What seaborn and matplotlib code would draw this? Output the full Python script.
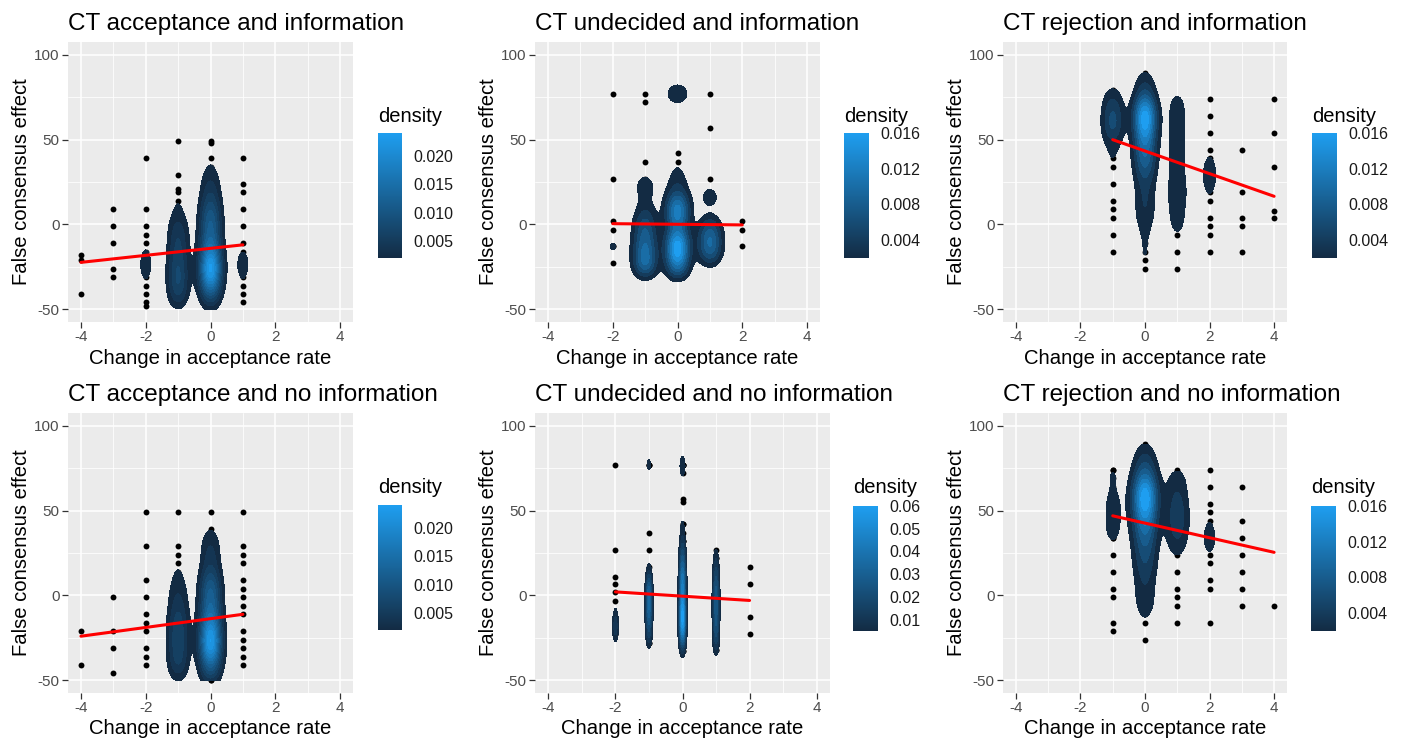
import numpy as np
import matplotlib
matplotlib.use("Agg")
import matplotlib.pyplot as plt
import seaborn as sns
from matplotlib.colors import LinearSegmentedColormap, Normalize
from matplotlib.cm import ScalarMappable

# ---- data: change in acceptance rate (x), false consensus effect (y), number of respondents (n)
acc_info_x = [-4, -4, -4,
              -3, -3, -3, -3, -3,
              -2, -2, -2, -2, -2, -2, -2, -2, -2, -2, -2, -2, -2,
              -1, -1, -1, -1, -1, -1, -1, -1, -1, -1, -1, -1, -1, -1, -1, -1, -1,
              0, 0, 0, 0, 0, 0, 0, 0, 0, 0, 0, 0, 0, 0, 0, 0, 0, 0, 0, 0,
              1, 1, 1, 1, 1, 1, 1, 1, 1, 1, 1, 1, 1]
acc_info_y = [-18, -21, -41,
              9, -1, -11, -26, -31,
              39, 9, -1, -6, -11, -16, -21, -26, -31, -36, -41, -46, -48,
              49, 29, 21, 19, 14, 9, 4, -1, -6, -11, -16, -21, -26, -31, -36, -41, -46,
              49, 48, 39, 34, 29, 24, 19, 14, 9, 4, -1, -6, -11, -16, -21, -26, -31, -36, -41, -46,
              39, 24, 19, 9, -1, -11, -16, -21, -26, -31, -36, -41, -46]
acc_info_n = [1, 1, 1,
              1, 1, 1, 1, 1,
              1, 1, 1, 1, 1, 1, 2, 2, 1, 1, 1, 1, 1,
              1, 1, 1, 1, 1, 1, 2, 3, 4, 4, 4, 5, 5, 6, 5, 5, 2,
              1, 1, 1, 1, 2, 3, 3, 5, 6, 8, 8, 8, 9, 11, 15, 19, 15, 11, 6, 3,
              1, 1, 1, 1, 1, 1, 1, 2, 2, 1, 1, 1, 1]

und_info_x = [-2, -2, -2, -2, -2, -2,
              -1, -1, -1, -1, -1, -1, -1, -1, -1, -1, -1, -1, -1, -1, -1,
              0, 0, 0, 0, 0, 0, 0, 0, 0, 0, 0, 0, 0, 0, 0, 0,
              1, 1, 1, 1, 1, 1, 1, 1, 1, 1, 1,
              2, 2, 2]
und_info_y = [77, 27, 2, -3, -13, -23,
              77, 72, 37, 27, 22, 17, 12, 7, 2, -3, -8, -13, -18, -23, -28,
              77, 42, 37, 30, 27, 22, 17, 12, 7, 2, -3, -8, -13, -18, -23, -28,
              77, 57, 27, 17, 13, 2, -3, -8, -13, -18, -23,
              2, -3, -13]
und_info_n = [1, 1, 1, 1, 2, 1,
              1, 1, 1, 1, 2, 1, 1, 2, 3, 4, 4, 5, 5, 6, 3,
              4, 1, 1, 1, 1, 2, 3, 6, 7, 5, 4, 7, 9, 8, 6, 4,
              1, 1, 1, 2, 1, 2, 4, 5, 5, 4, 1,
              1, 1, 1]

rej_info_x = [-1, -1, -1, -1, -1, -1, -1, -1, -1, -1, -1, -1, -1, -1, -1, -1,
              0, 0, 0, 0, 0, 0, 0, 0, 0, 0, 0, 0, 0, 0, 0, 0, 0, 0, 0, 0, 0, 0, 0, 0,
              1, 1, 1, 1, 1, 1, 1, 1, 1, 1, 1, 1, 1, 1, 1, 1, 1, 1, 1,
              2, 2, 2, 2, 2, 2, 2, 2, 2, 2, 2, 2, 2, 2,
              3, 3, 3, 3, 3,
              4, 4, 4, 4, 4]
rej_info_y = [79, 74, 69, 64, 59, 54, 49, 44, 39, 34, 24, 14, 9, 4, -6, -16,
              89, 84, 79, 74, 69, 64, 59, 54, 49, 44, 39, 34, 29, 24, 19, 14, 9, 4, -1, -6, -11, -16, -21, -26,
              74, 69, 64, 59, 54, 49, 44, 39, 34, 29, 24, 19, 14, 9, 4, -1, -6, -16, -26,
              74, 64, 54, 44, 39, 34, 29, 24, 19, 14, 4, -1, -6, -16,
              44, 19, 4, -1, -16,
              74, 54, 34, 8, 4]
rej_info_n = [1, 2, 3, 3, 4, 3, 1, 1, 1, 1, 1, 1, 1, 1, 1, 1,
              1, 2, 2, 4, 8, 10, 9, 7, 6, 5, 5, 4, 3, 2, 2, 2, 2, 2, 1, 1, 1, 1, 1, 1,
              2, 1, 2, 1, 2, 1, 2, 1, 2, 1, 2, 2, 2, 1, 2, 1, 1, 1, 1,
              1, 1, 1, 1, 1, 1, 2, 1, 1, 1, 1, 1, 1, 1,
              1, 1, 1, 1, 1,
              1, 1, 1, 1, 1]

acc_noinfo_x = [-4, -4,
                -3, -3, -3, -3,
                -2, -2, -2, -2, -2, -2, -2, -2, -2, -2,
                -1, -1, -1, -1, -1, -1, -1, -1, -1, -1, -1, -1, -1, -1, -1, -1, -1,
                0, 0, 0, 0, 0, 0, 0, 0, 0, 0, 0, 0, 0, 0, 0, 0, 0, 0, 0, 0,
                1, 1, 1, 1, 1, 1, 1, 1, 1, 1, 1, 1, 1, 1]
acc_noinfo_y = [-21, -41,
                -1, -21, -31, -46,
                49, 29, 9, -1, -11, -16, -21, -31, -36, -41,
                49, 29, 24, 19, 14, 9, 4, -1, -6, -11, -16, -21, -26, -31, -36, -41, -46,
                49, 39, 34, 29, 24, 19, 14, 9, 4, -1, -6, -11, -16, -21, -26, -31, -36, -41, -46, -50,
                49, 29, 24, 19, 9, 4, -1, -6, -11, -21, -26, -31, -36, -41]
acc_noinfo_n = [1, 1,
                1, 1, 1, 1,
                1, 1, 1, 1, 1, 1, 1, 1, 1, 1,
                1, 1, 1, 1, 1, 2, 2, 3, 3, 4, 5, 5, 5, 5, 5, 4, 3,
                1, 1, 2, 3, 3, 3, 4, 7, 8, 9, 8, 10, 12, 14, 18, 16, 12, 8, 5, 2,
                1, 1, 1, 1, 1, 1, 1, 1, 1, 1, 1, 1, 1, 1]

und_noinfo_x = [-2, -2, -2, -2, -2, -2, -2, -2, -2,
                -1, -1, -1, -1, -1, -1, -1, -1, -1, -1, -1, -1, -1,
                0, 0, 0, 0, 0, 0, 0, 0, 0, 0, 0, 0, 0, 0, 0, 0, 0, 0, 0, 0,
                1, 1, 1, 1, 1, 1, 1, 1, 1, 1, 1, 1, 1,
                2, 2, 2, 2]
und_noinfo_y = [77, 27, 11, 7, 2, -3, -13, -18, -23,
                77, 37, 27, 17, 12, 7, 2, -3, -8, -13, -18, -23, -28,
                77, 72, 57, 55, 42, 37, 32, 27, 22, 17, 12, 7, 2, -3, -8, -13, -18, -23, -28, -33,
                27, 22, 17, 12, 7, 2, -3, -8, -13, -18, -23, -28, -32,
                17, 7, -13, -23]
und_noinfo_n = [1, 1, 1, 1, 1, 1, 3, 3, 3,
                3, 1, 1, 1, 3, 6, 8, 8, 8, 6, 5, 4, 2,
                4, 1, 1, 1, 2, 1, 3, 4, 6, 7, 9, 10, 10, 11, 13, 14, 13, 10, 6, 2,
                1, 2, 3, 4, 5, 6, 6, 6, 6, 5, 5, 3, 2,
                1, 1, 1, 1]

rej_noinfo_x = [-1, -1, -1, -1, -1, -1, -1, -1, -1, -1, -1, -1, -1, -1, -1,
                0, 0, 0, 0, 0, 0, 0, 0, 0, 0, 0, 0, 0, 0, 0, 0, 0, 0, 0, 0, 0, 0, 0,
                1, 1, 1, 1, 1, 1, 1, 1, 1, 1, 1, 1, 1, 1, 1, 1,
                2, 2, 2, 2, 2, 2, 2, 2, 2, 2, 2, 2, 2,
                3, 3, 3, 3, 3, 3, 3,
                4]
rej_noinfo_y = [74, 69, 64, 59, 54, 49, 44, 39, 34, 24, 14, 4, -1, -16, -21,
                89, 84, 79, 74, 69, 64, 59, 54, 49, 44, 39, 34, 29, 24, 19, 14, 9, 4, -1, -6, -11, -16, -26,
                74, 69, 64, 59, 54, 49, 44, 39, 34, 29, 24, 14, 4, -1, -6, -16,
                74, 64, 54, 49, 44, 39, 34, 29, 24, 19, 9, 4, -16,
                64, 44, 34, 24, 14, 4, -6,
                -6]
rej_noinfo_n = [2, 1, 1, 1, 2, 1, 2, 1, 2, 1, 1, 1, 1, 1, 1,
                1, 2, 3, 4, 6, 9, 11, 11, 8, 7, 6, 5, 4, 4, 3, 3, 2, 2, 2, 2, 1, 1, 1,
                1, 2, 2, 2, 3, 3, 3, 3, 2, 2, 1, 1, 1, 1, 1, 1,
                1, 1, 1, 1, 1, 1, 2, 1, 1, 1, 1, 1, 1,
                1, 1, 1, 1, 1, 1, 1,
                1]

titles = ["CT acceptance and information", "CT undecided and information",
          "CT rejection and information", "CT acceptance and no information",
          "CT undecided and no information", "CT rejection and no information"]
x_ticks = [-4, -2, 0, 2, 4]
y_ticks = [-50, 0, 50, 100]
density_ticks_acc = [0.005, 0.010, 0.015, 0.020]
density_ticks_small = [0.004, 0.008, 0.012, 0.016]
density_ticks_und_noinfo = [0.01, 0.02, 0.03, 0.04, 0.05, 0.06]

# kernel bandwidths (sd) of the 2d density, per panel
bw_x = [0.224, 0.25, 0.24, 0.224, 0.065, 0.26]
bw_y = [6, 4.5, 6, 6, 4.5, 6]

W, H = 1402, 739
panel_px = [(68, 42, 353, 322), (535, 42, 820, 322), (1003, 42, 1287, 322),
            (68, 413, 353, 693), (535, 413, 830, 693), (1003, 413, 1287, 693)]
cbar_px = [(378, 133, 402, 258), (844, 133, 869, 258), (1312, 133, 1337, 258),
           (378, 505, 402, 630), (853, 506, 878, 631), (1311, 506, 1336, 631)]
cbar_title_y = [121.5, 121.5, 121.5, 493, 493, 493]


def px_rect(l, t, r, b):
    return [l / W, 1 - b / H, (r - l) / W, (b - t) / H]


def density2d(x, y, n, sx, sy):
    gx = np.linspace(-4, 4, 641)
    gy = np.linspace(-50, 100, 451)
    kx = np.exp(-0.5 * ((gx[None, :] - x[:, None]) / sx) ** 2) / (sx * np.sqrt(2 * np.pi))
    ky = np.exp(-0.5 * ((gy[None, :] - y[:, None]) / sy) ** 2) / (sy * np.sqrt(2 * np.pi))
    z = (ky * n[:, None]).T @ kx / n.sum()
    return gx, gy, z


def pretty_step(zmax, nbins=10):
    cell = zmax / nbins
    base = 10 ** np.floor(np.log10(cell))
    r = cell / base
    unit = 1.0
    if 2 - r < 1.5 * (r - unit):
        unit = 2.0
        if 5 - r < 2.75 * (r - unit):
            unit = 5.0
            if 10 - r < 1.5 * (r - unit):
                unit = 10.0
    return unit * base


sns.set_theme(style="darkgrid", rc={"axes.facecolor": "#EBEBEB", "grid.color": "white"})
plt.rcParams["font.family"] = ["Liberation Sans", "DejaVu Sans"]
plt.rcParams["axes.unicode_minus"] = False

fill_cmap = LinearSegmentedColormap.from_list("gg_fill", ["#132B43", "#1E9EF0"])

panels = [
    (acc_info_x, acc_info_y, acc_info_n, density_ticks_acc),
    (und_info_x, und_info_y, und_info_n, density_ticks_small),
    (rej_info_x, rej_info_y, rej_info_n, density_ticks_small),
    (acc_noinfo_x, acc_noinfo_y, acc_noinfo_n, density_ticks_acc),
    (und_noinfo_x, und_noinfo_y, und_noinfo_n, density_ticks_und_noinfo),
    (rej_noinfo_x, rej_noinfo_y, rej_noinfo_n, density_ticks_small),
]

fig = plt.figure(figsize=(W / 100, H / 100), dpi=100)

for i, (px, py, pn, cticks) in enumerate(panels):
    x = np.array(px, dtype=float)
    y = np.array(py, dtype=float)
    n = np.array(pn, dtype=float)
    xs = np.repeat(x, pn)
    ys = np.repeat(y, pn)

    l, t, r, b = panel_px[i]
    ax = fig.add_axes(px_rect(l, t, r, b))

    sns.scatterplot(x=xs, y=ys, color="black", s=18, linewidth=0, ax=ax,
                    zorder=2, legend=False)

    gx, gy, z = density2d(x, y, n, bw_x[i], bw_y[i])
    step = pretty_step(z.max())
    breaks = step * np.arange(1, int(np.floor(z.max() / step + 1e-9)) + 1)
    norm = Normalize(breaks[0], breaks[-1])
    ax.contourf(gx, gy, z, levels=np.append(breaks, z.max() * 1.001),
                colors=fill_cmap(norm(breaks)), zorder=3)

    sns.regplot(x=xs, y=ys, scatter=False, ci=None, truncate=True, ax=ax,
                line_kws={"color": "red", "lw": 2.2, "zorder": 4})

    ax.set_xlim(-4.4, 4.4)
    ax.set_ylim(-57.5, 107.5)
    ax.set_xticks(x_ticks)
    ax.set_yticks(y_ticks)
    ax.set_xticks([-3, -1, 1, 3], minor=True)
    ax.set_yticks([-25, 25, 75], minor=True)
    ax.grid(which="major", color="white", linewidth=1.1)
    ax.grid(which="minor", color="white", linewidth=0.55)
    ax.tick_params(which="major", length=4, width=0.9, color="#333333",
                   labelcolor="#4D4D4D", labelsize=11, pad=2, bottom=True, left=True)
    ax.tick_params(which="minor", length=0)
    for s in ax.spines.values():
        s.set_visible(False)

    ax.set_title(titles[i], loc="left", fontsize=17.5, pad=8.6, color="black")
    ax.set_xlabel("Change in acceptance rate", fontsize=14.6, color="black")
    ax.set_ylabel("False consensus effect", fontsize=14.6, color="black")
    ax.xaxis.set_label_coords(0.5, -41.5 / (b - t))
    ax.xaxis.label.set_verticalalignment("baseline")
    ax.yaxis.set_label_coords(-41.3 / (r - l), 0.5)
    ax.yaxis.label.set_verticalalignment("baseline")

    cl, ct, cr, cb_ = cbar_px[i]
    cax = fig.add_axes(px_rect(cl, ct, cr, cb_))
    cbar = fig.colorbar(ScalarMappable(norm=norm, cmap=fill_cmap), cax=cax, ticks=cticks)
    cbar.outline.set_visible(False)
    cbar.minorticks_off()
    dec = 3 if min(cticks) < 0.01 else 2
    cbar.ax.set_yticklabels([f"{v:.{dec}f}" for v in cticks])
    cax.grid(False)
    cax.tick_params(axis="y", direction="in", length=5, width=0.9, color="white",
                    left=True, right=True, labelleft=False, labelright=True,
                    labelsize=11.5, labelcolor="#1A1A1A", pad=8)
    fig.text(cl / W, 1 - cbar_title_y[i] / H, "density", fontsize=14.5,
             va="baseline", ha="left", color="black")

fig.savefig("out.png", dpi=100)
